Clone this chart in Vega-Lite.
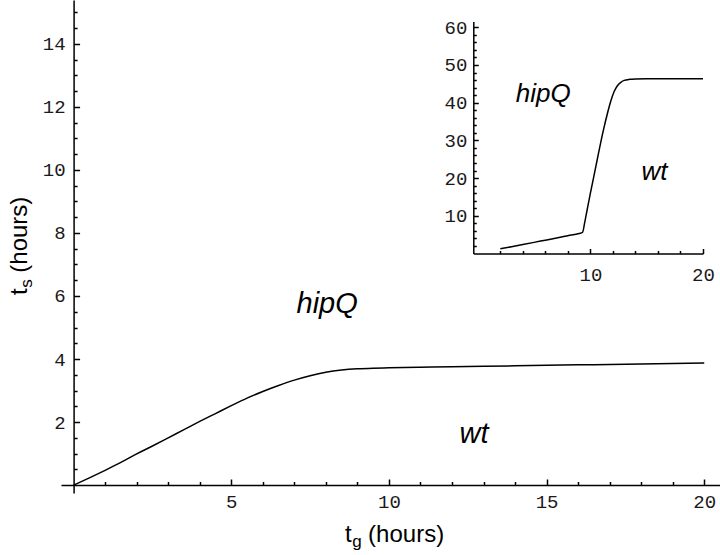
{
  "$schema": "https://vega.github.io/schema/vega-lite/v6.json",
  "width": 659,
  "height": 493,
  "autosize": {"type": "none"},
  "padding": {"left": 61, "top": 0, "right": 0, "bottom": 62},
  "background": "white",
  "config": {
    "view": {"stroke": null},
    "axis": {
      "grid": false,
      "domainColor": "black",
      "domainWidth": 1.5,
      "tickColor": "black",
      "tickWidth": 1.5,
      "labelColor": "#1a1a1a",
      "labelFont": "Liberation Mono",
      "labelFontSize": 19,
      "labelFlush": false,
      "labelOverlap": false
    },
    "text": {"font": "Liberation Sans", "color": "black"}
  },
  "datasets": {
    "main": [
      {"tg": 0, "ts": 0}, {"tg": 0.5, "ts": 0.23}, {"tg": 1, "ts": 0.47}, {"tg": 1.5, "ts": 0.72},
      {"tg": 2, "ts": 0.99}, {"tg": 2.5, "ts": 1.24}, {"tg": 3, "ts": 1.5}, {"tg": 3.5, "ts": 1.76},
      {"tg": 4, "ts": 2.02}, {"tg": 4.5, "ts": 2.27}, {"tg": 5, "ts": 2.52}, {"tg": 5.5, "ts": 2.76},
      {"tg": 6, "ts": 2.97}, {"tg": 6.5, "ts": 3.16}, {"tg": 7, "ts": 3.33}, {"tg": 7.5, "ts": 3.47},
      {"tg": 8, "ts": 3.58}, {"tg": 8.5, "ts": 3.65}, {"tg": 9, "ts": 3.69}, {"tg": 9.5, "ts": 3.71},
      {"tg": 10, "ts": 3.72}, {"tg": 11, "ts": 3.74}, {"tg": 12, "ts": 3.755}, {"tg": 13, "ts": 3.77},
      {"tg": 14, "ts": 3.785}, {"tg": 15, "ts": 3.8}, {"tg": 16, "ts": 3.815}, {"tg": 17, "ts": 3.83},
      {"tg": 18, "ts": 3.845}, {"tg": 19, "ts": 3.86}, {"tg": 20, "ts": 3.875}
    ],
    "inset": [
      {"tg": 2, "ts": 1.25}, {"tg": 3, "ts": 1.8}, {"tg": 4, "ts": 2.37}, {"tg": 5, "ts": 2.95},
      {"tg": 6, "ts": 3.54}, {"tg": 7, "ts": 4.12}, {"tg": 8, "ts": 4.71}, {"tg": 9, "ts": 5.3},
      {"tg": 9.3, "ts": 5.6}, {"tg": 9.5, "ts": 8.3}, {"tg": 9.7, "ts": 11.4}, {"tg": 10, "ts": 16.0},
      {"tg": 10.3, "ts": 20.4}, {"tg": 10.6, "ts": 24.8}, {"tg": 10.9, "ts": 29.2}, {"tg": 11.2, "ts": 33.3},
      {"tg": 11.5, "ts": 37.0}, {"tg": 11.8, "ts": 40.3}, {"tg": 12.1, "ts": 42.9}, {"tg": 12.4, "ts": 44.5},
      {"tg": 12.7, "ts": 45.4}, {"tg": 13, "ts": 45.9}, {"tg": 13.5, "ts": 46.2}, {"tg": 14, "ts": 46.3},
      {"tg": 15, "ts": 46.35}, {"tg": 17, "ts": 46.35}, {"tg": 20, "ts": 46.35}
    ]
  },
  "layer": [
    {
      "data": {"name": "main"},
      "mark": {"type": "line", "color": "black", "strokeWidth": 1.5, "interpolate": "monotone"},
      "encoding": {
        "x": {
          "field": "tg", "type": "quantitative", "title": null,
          "scale": {"domain": [-0.4, 20.5], "nice": false, "zero": false},
          "axis": {"orient": "bottom", "offset": -8, "values": [5, 10, 15, 20], "format": "d", "tickSize": -6, "labelPadding": 13.5}
        },
        "y": {
          "field": "ts", "type": "quantitative", "title": null,
          "scale": {"domain": [-0.25, 15.39], "nice": false, "zero": false},
          "axis": {"orient": "left", "offset": -12.6, "values": [2, 4, 6, 8, 10, 12, 14], "format": "d", "tickSize": -6, "labelPadding": 14.5}
        }
      }
    },
    {
      "data": {"name": "main"},
      "mark": {"type": "line", "opacity": 0},
      "encoding": {
        "x": {
          "field": "tg", "type": "quantitative", "title": null,
          "scale": {"domain": [-0.4, 20.5], "nice": false, "zero": false},
          "axis": {"orient": "bottom", "offset": -8, "values": [1,2,3,4,6,7,8,9,11,12,13,14,16,17,18,19], "labels": false, "domain": false, "tickSize": -3.5}
        },
        "y": {
          "field": "ts", "type": "quantitative", "title": null,
          "scale": {"domain": [-0.25, 15.39], "nice": false, "zero": false},
          "axis": {"orient": "left", "offset": -12.6, "values": [0.5,1,1.5,2.5,3,3.5,4.5,5,5.5,6.5,7,7.5,8.5,9,9.5,10.5,11,11.5,12.5,13,13.5,14.5,15], "labels": false, "domain": false, "tickSize": -3.5}
        }
      }
    },
    {
      "data": {"name": "inset"},
      "mark": {"type": "line", "color": "black", "strokeWidth": 1.5, "interpolate": "monotone"},
      "encoding": {
        "x": {
          "field": "tg", "type": "quantitative", "title": null,
          "scale": {"domain": [-0.4, 20], "range": [412.3, 642], "nice": false, "zero": false},
          "axis": {"orient": "bottom", "offset": -239.5, "values": [10, 20], "format": "d", "tickSize": -5, "labelPadding": 16.5}
        },
        "y": {
          "field": "ts", "type": "quantitative", "title": null,
          "scale": {"domain": [0, 61.5], "range": [253.5, 21.6], "nice": false, "zero": false},
          "axis": {"orient": "left", "offset": -412.3, "values": [10, 20, 30, 40, 50, 60], "format": "d", "tickSize": -5, "labelPadding": 11.5}
        }
      }
    },
    {
      "data": {"name": "inset"},
      "mark": {"type": "line", "opacity": 0},
      "encoding": {
        "x": {
          "field": "tg", "type": "quantitative", "title": null,
          "scale": {"domain": [-0.4, 20], "range": [412.3, 642], "nice": false, "zero": false},
          "axis": {"orient": "bottom", "offset": -239.5, "values": [2,4,6,8,12,14,16,18], "labels": false, "domain": false, "tickSize": -3}
        },
        "y": {
          "field": "ts", "type": "quantitative", "title": null,
          "scale": {"domain": [0, 61.5], "range": [253.5, 21.6], "nice": false, "zero": false},
          "axis": {"orient": "left", "offset": -412.3, "values": [2,4,6,8,12,14,16,18,22,24,26,28,32,34,36,38,42,44,46,48,52,54,56,58], "labels": false, "domain": false, "tickSize": -3}
        }
      }
    },
    {
      "data": {"values": [{"label": "hipQ"}]},
      "mark": {"type": "text", "fontSize": 29, "fontStyle": "italic", "align": "center", "baseline": "alphabetic"},
      "encoding": {
        "x": {"datum": 8.04, "type": "quantitative", "scale": {"domain": [-0.4, 20.5], "nice": false, "zero": false}, "axis": null},
        "y": {"datum": 5.46, "type": "quantitative", "scale": {"domain": [-0.25, 15.39], "nice": false, "zero": false}, "axis": null},
        "text": {"field": "label"}
      }
    },
    {
      "data": {"values": [{"label": "wt"}]},
      "mark": {"type": "text", "fontSize": 29, "fontStyle": "italic", "align": "center", "baseline": "alphabetic"},
      "encoding": {
        "x": {"datum": 12.7, "type": "quantitative", "scale": {"domain": [-0.4, 20.5], "nice": false, "zero": false}, "axis": null},
        "y": {"datum": 1.33, "type": "quantitative", "scale": {"domain": [-0.25, 15.39], "nice": false, "zero": false}, "axis": null},
        "text": {"field": "label"}
      }
    },
    {
      "data": {"values": [{"label": "t"}]},
      "mark": {"type": "text", "fontSize": 24, "align": "left", "baseline": "alphabetic"},
      "encoding": {
        "x": {"datum": 8.61, "type": "quantitative", "scale": {"domain": [-0.4, 20.5], "nice": false, "zero": false}, "axis": null},
        "y": {"datum": -1.8, "type": "quantitative", "scale": {"domain": [-0.25, 15.39], "nice": false, "zero": false}, "axis": null},
        "text": {"field": "label"}
      }
    },
    {
      "data": {"values": [{"label": "g"}]},
      "mark": {"type": "text", "fontSize": 17, "align": "left", "baseline": "alphabetic"},
      "encoding": {
        "x": {"datum": 8.84, "type": "quantitative", "scale": {"domain": [-0.4, 20.5], "nice": false, "zero": false}, "axis": null},
        "y": {"datum": -1.95, "type": "quantitative", "scale": {"domain": [-0.25, 15.39], "nice": false, "zero": false}, "axis": null},
        "text": {"field": "label"}
      }
    },
    {
      "data": {"values": [{"label": "(hours)"}]},
      "mark": {"type": "text", "fontSize": 24, "align": "left", "baseline": "alphabetic"},
      "encoding": {
        "x": {"datum": 9.34, "type": "quantitative", "scale": {"domain": [-0.4, 20.5], "nice": false, "zero": false}, "axis": null},
        "y": {"datum": -1.8, "type": "quantitative", "scale": {"domain": [-0.25, 15.39], "nice": false, "zero": false}, "axis": null},
        "text": {"field": "label"}
      }
    },
    {
      "data": {"values": [{"label": "t"}]},
      "mark": {"type": "text", "fontSize": 24, "angle": 270, "align": "left", "baseline": "alphabetic"},
      "encoding": {
        "x": {"datum": -1.48, "type": "quantitative", "scale": {"domain": [-0.4, 20.5], "nice": false, "zero": false}, "axis": null},
        "y": {"datum": 6.03, "type": "quantitative", "scale": {"domain": [-0.25, 15.39], "nice": false, "zero": false}, "axis": null},
        "text": {"field": "label"}
      }
    },
    {
      "data": {"values": [{"label": "s"}]},
      "mark": {"type": "text", "fontSize": 17, "angle": 270, "align": "left", "baseline": "alphabetic"},
      "encoding": {
        "x": {"datum": -1.33, "type": "quantitative", "scale": {"domain": [-0.4, 20.5], "nice": false, "zero": false}, "axis": null},
        "y": {"datum": 6.26, "type": "quantitative", "scale": {"domain": [-0.25, 15.39], "nice": false, "zero": false}, "axis": null},
        "text": {"field": "label"}
      }
    },
    {
      "data": {"values": [{"label": "(hours)"}]},
      "mark": {"type": "text", "fontSize": 24, "angle": 270, "align": "left", "baseline": "alphabetic"},
      "encoding": {
        "x": {"datum": -1.48, "type": "quantitative", "scale": {"domain": [-0.4, 20.5], "nice": false, "zero": false}, "axis": null},
        "y": {"datum": 6.74, "type": "quantitative", "scale": {"domain": [-0.25, 15.39], "nice": false, "zero": false}, "axis": null},
        "text": {"field": "label"}
      }
    },
    {
      "data": {"values": [{"label": "hipQ"}]},
      "mark": {"type": "text", "fontSize": 26, "fontStyle": "italic", "align": "center", "baseline": "alphabetic"},
      "encoding": {
        "x": {"datum": 5.81, "type": "quantitative", "scale": {"domain": [-0.4, 20], "range": [412.3, 642], "nice": false, "zero": false}, "axis": null},
        "y": {"datum": 40.1, "type": "quantitative", "scale": {"domain": [0, 61.5], "range": [253.5, 21.6], "nice": false, "zero": false}, "axis": null},
        "text": {"field": "label"}
      }
    },
    {
      "data": {"values": [{"label": "wt"}]},
      "mark": {"type": "text", "fontSize": 26, "fontStyle": "italic", "align": "center", "baseline": "alphabetic"},
      "encoding": {
        "x": {"datum": 15.7, "type": "quantitative", "scale": {"domain": [-0.4, 20], "range": [412.3, 642], "nice": false, "zero": false}, "axis": null},
        "y": {"datum": 19.4, "type": "quantitative", "scale": {"domain": [0, 61.5], "range": [253.5, 21.6], "nice": false, "zero": false}, "axis": null},
        "text": {"field": "label"}
      }
    }
  ],
  "resolve": {"scale": {"x": "independent", "y": "independent"}}
}
